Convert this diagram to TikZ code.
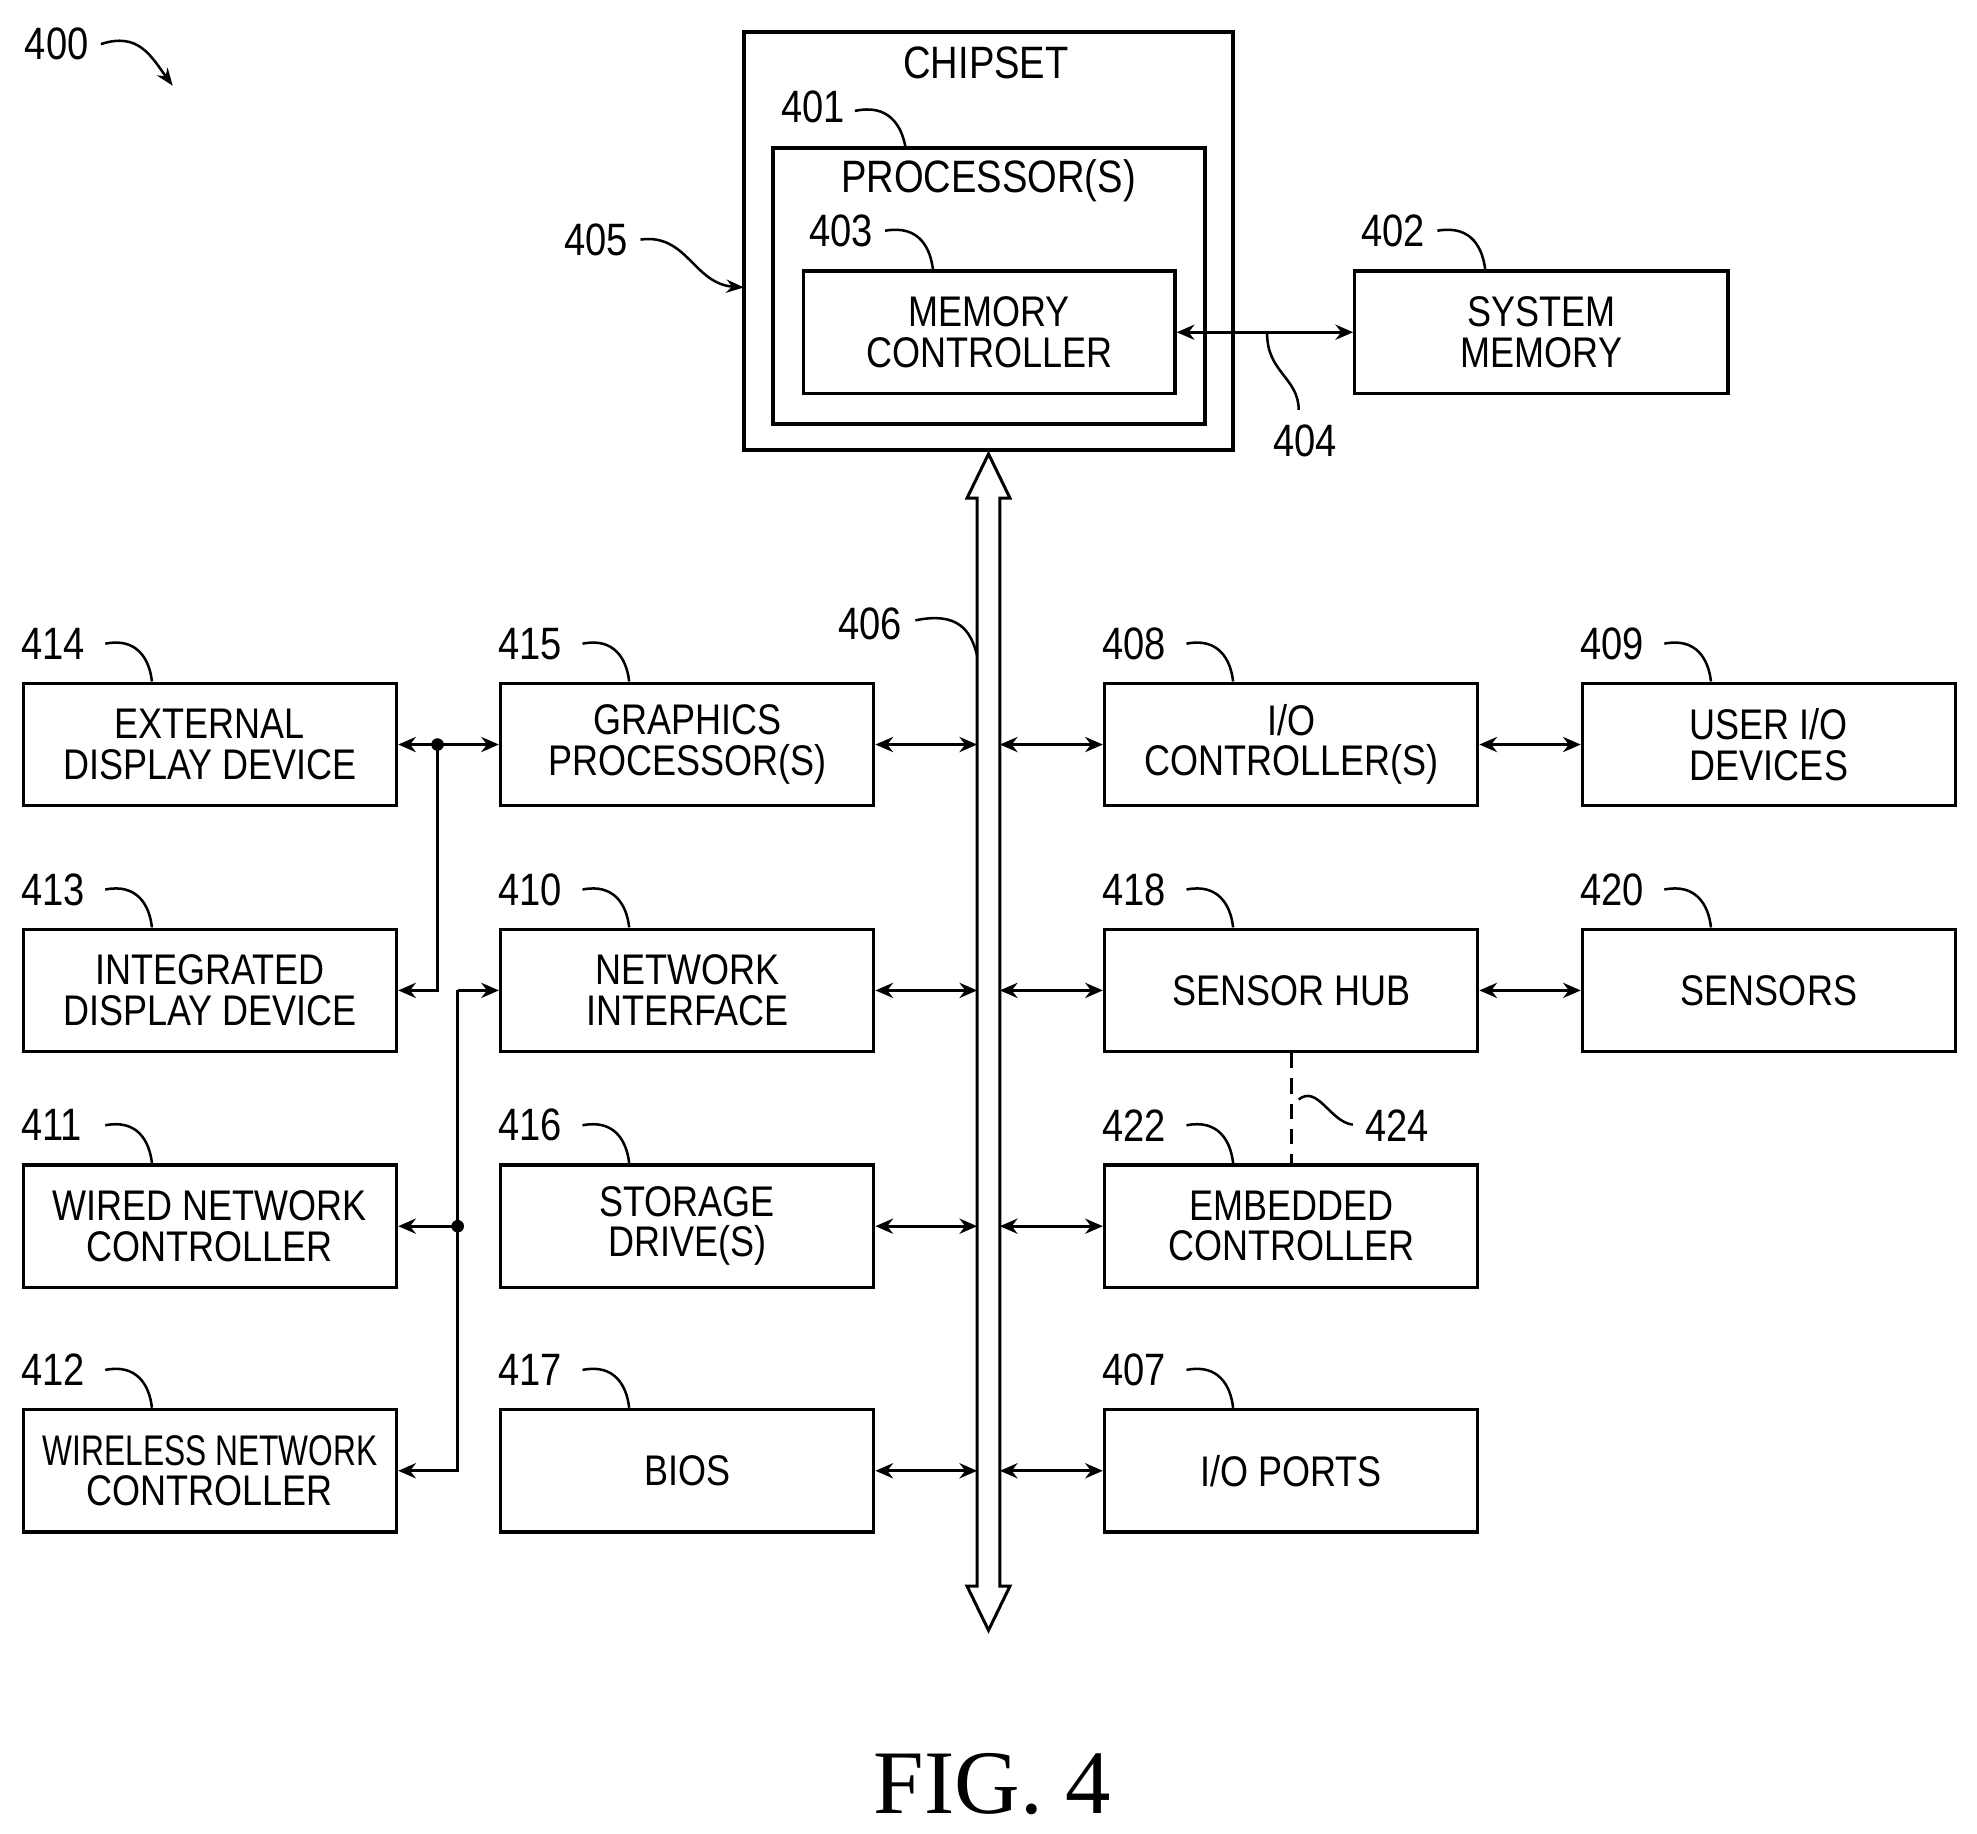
\documentclass[tikz,border=0pt]{standalone}
\usepackage{fontspec}
\usetikzlibrary{arrows.meta}
\setmainfont{Liberation Sans}[FakeStretch=0.84]
\newfontfamily\figfont{Liberation Serif}
\begin{document}
\begin{tikzpicture}[x=1pt,y=-1pt,line width=2.6pt,
 box/.style={draw,minimum width=296pt,minimum height=97pt,align=center,font=\fontsize{34}{36}\selectfont,inner sep=0pt},
 lbl/.style={font=\fontsize{36}{38}\selectfont,inner sep=1pt},
 ar/.style={<->,>={Stealth[length=14pt,width=12pt]},line width=2.4pt},
 lead/.style={line width=2pt}]
\useasboundingbox (0,0) rectangle (1568,1454);
\node[lbl] (n400) at (45,35) {400};
\draw[lead,->,>={Stealth[length=14pt]}] (80,35) .. controls (110,25) and (120,45) .. (137,68);
% chipset
\node[draw,line width=3.2pt,minimum width=388pt,minimum height=332pt,inner sep=0pt] (chip) at (784,191) {};
\node[lbl] (tchip) at (782,50) {CHIPSET};
\node[draw,line width=3.2pt,minimum width=343pt,minimum height=219pt,inner sep=0pt] (proc) at (784.5,226.5) {};
\node[lbl] (tproc) at (784,143) {PROCESSOR(S)};
\node[box,minimum width=295pt] (mc) at (784.5,263.5) {MEMORY\\[-4pt]CONTROLLER};
\node[box] (sm) at (1222.5,263.5) {SYSTEM\\[-4pt]MEMORY};
\draw[ar] (mc.east) -- (sm.west);
\node[lbl] (n401) at (645,85) {401};
\draw[lead] (678,88) .. controls (705,82) and (715,100) .. (718,116);
\node[lbl] (n403) at (667,183) {403};
\draw[lead] (702,183) .. controls (730,178) and (738,198) .. (740,214);
\node[lbl] (n402) at (1105,183) {402};
\draw[lead] (1140,183) .. controls (1168,178) and (1176,198) .. (1178,214);
\node[lbl] (n404) at (1035,350) {404};
\draw[lead] (1005,265) .. controls (1005,295) and (1030,300) .. (1030,325);
\node[lbl] (n405) at (473,190) {405};
\coordinate (c405) at (590,228);
\draw[lead,->,>={Stealth[length=14pt]}] (508,190) .. controls (545,185) and (550,225) .. (c405);
% bus
\draw[line width=2.4pt,line join=miter] (784,360) -- (801,395) -- (793,395) -- (793,1258) -- (801,1258) -- (784,1293) -- (767,1258) -- (775,1258) -- (775,395) -- (767,395) -- cycle;
\node[lbl] (n406) at (690,495) {406};
\draw[lead] (726,492) .. controls (760,485) and (770,500) .. (775,520);
% boxes
\foreach \n/\x/\y/\t/\num in {
 a1/166.5/590.5/{EXTERNAL\\[-4pt]DISPLAY DEVICE}/414,
 a2/166.5/785.5/{INTEGRATED\\[-4pt]DISPLAY DEVICE}/413,
 a3/166.5/972.5/{WIRED NETWORK\\[-4pt]CONTROLLER}/411,
 a4/166.5/1166.5/{\scalebox{0.88}[1]{WIRELESS NETWORK}\\[-4pt]CONTROLLER}/412,
 b1/545/590.5/{GRAPHICS\\[-4pt]PROCESSOR(S)}/415,
 b2/545/785.5/{NETWORK\\[-4pt]INTERFACE}/410,
 b3/545/972.5/{STORAGE\\[-4pt]DRIVE(S)}/416,
 b4/545/1166.5/{BIOS}/417,
 c1/1024/590.5/{I/O\\[-4pt]CONTROLLER(S)}/408,
 c2/1024/785.5/{SENSOR HUB}/418,
 c3/1024/972.5/{EMBEDDED\\[-4pt]CONTROLLER}/422,
 c4/1024/1166.5/{I/O PORTS}/407,
 d1/1403/590.5/{USER I/O\\[-4pt]DEVICES}/409,
 d2/1403/785.5/{SENSORS}/420}
{
 \node[box] (\n) at (\x,\y) {\t};
 \node[lbl,anchor=west] (l\n) at (\x-152,\y-80) {\num};
 \draw[lead] (\x-83,\y-80) .. controls (\x-58,\y-85) and (\x-48,\y-68) .. (\x-46,\y-50);
}
% bus connections
\foreach \r/\y in {1/590.5,2/785.5,3/972.5,4/1166.5}{
 \coordinate (bl\r) at (775,\y); \coordinate (br\r) at (793,\y);
 \draw[ar] (b\r.east) -- (bl\r);
 \draw[ar] (br\r) -- (c\r.west);
}
\draw[ar] (c1.east) -- (d1.west);
\draw[ar] (c2.east) -- (d2.west);
% left side
\draw[ar] (a1.east) -- (b1.west);
\coordinate (dot1) at (347,590.5);
\fill (dot1) circle (5pt);
\draw[->,>={Stealth[length=14pt,width=12pt]},line width=2.4pt] (dot1) |- (a2.east);
\coordinate (v2) at (363,785.5);
\draw[->,>={Stealth[length=14pt,width=12pt]},line width=2.4pt] (v2) -- (b2.west);
\coordinate (dot2) at (363,972.5);
\fill (dot2) circle (5pt);
\draw[line width=2.4pt] (v2) -- (dot2);
\draw[->,>={Stealth[length=14pt,width=12pt]},line width=2.4pt] (dot2) -- (a3.east);
\draw[->,>={Stealth[length=14pt,width=12pt]},line width=2.4pt] (dot2) |- (a4.east);
% dashed 424
\draw[line width=2.4pt,dash pattern=on 12pt off 8pt] (c2.south) -- (c3.north);
\node[lbl] (n424) at (1108,893) {424};
\draw[lead] (1030,872) .. controls (1045,860) and (1055,890) .. (1073,892);
\node[font=\figfont\fontsize{72}{74}\selectfont] (fig) at (787,1415) {FIG. 4};
\end{tikzpicture}
\end{document}
